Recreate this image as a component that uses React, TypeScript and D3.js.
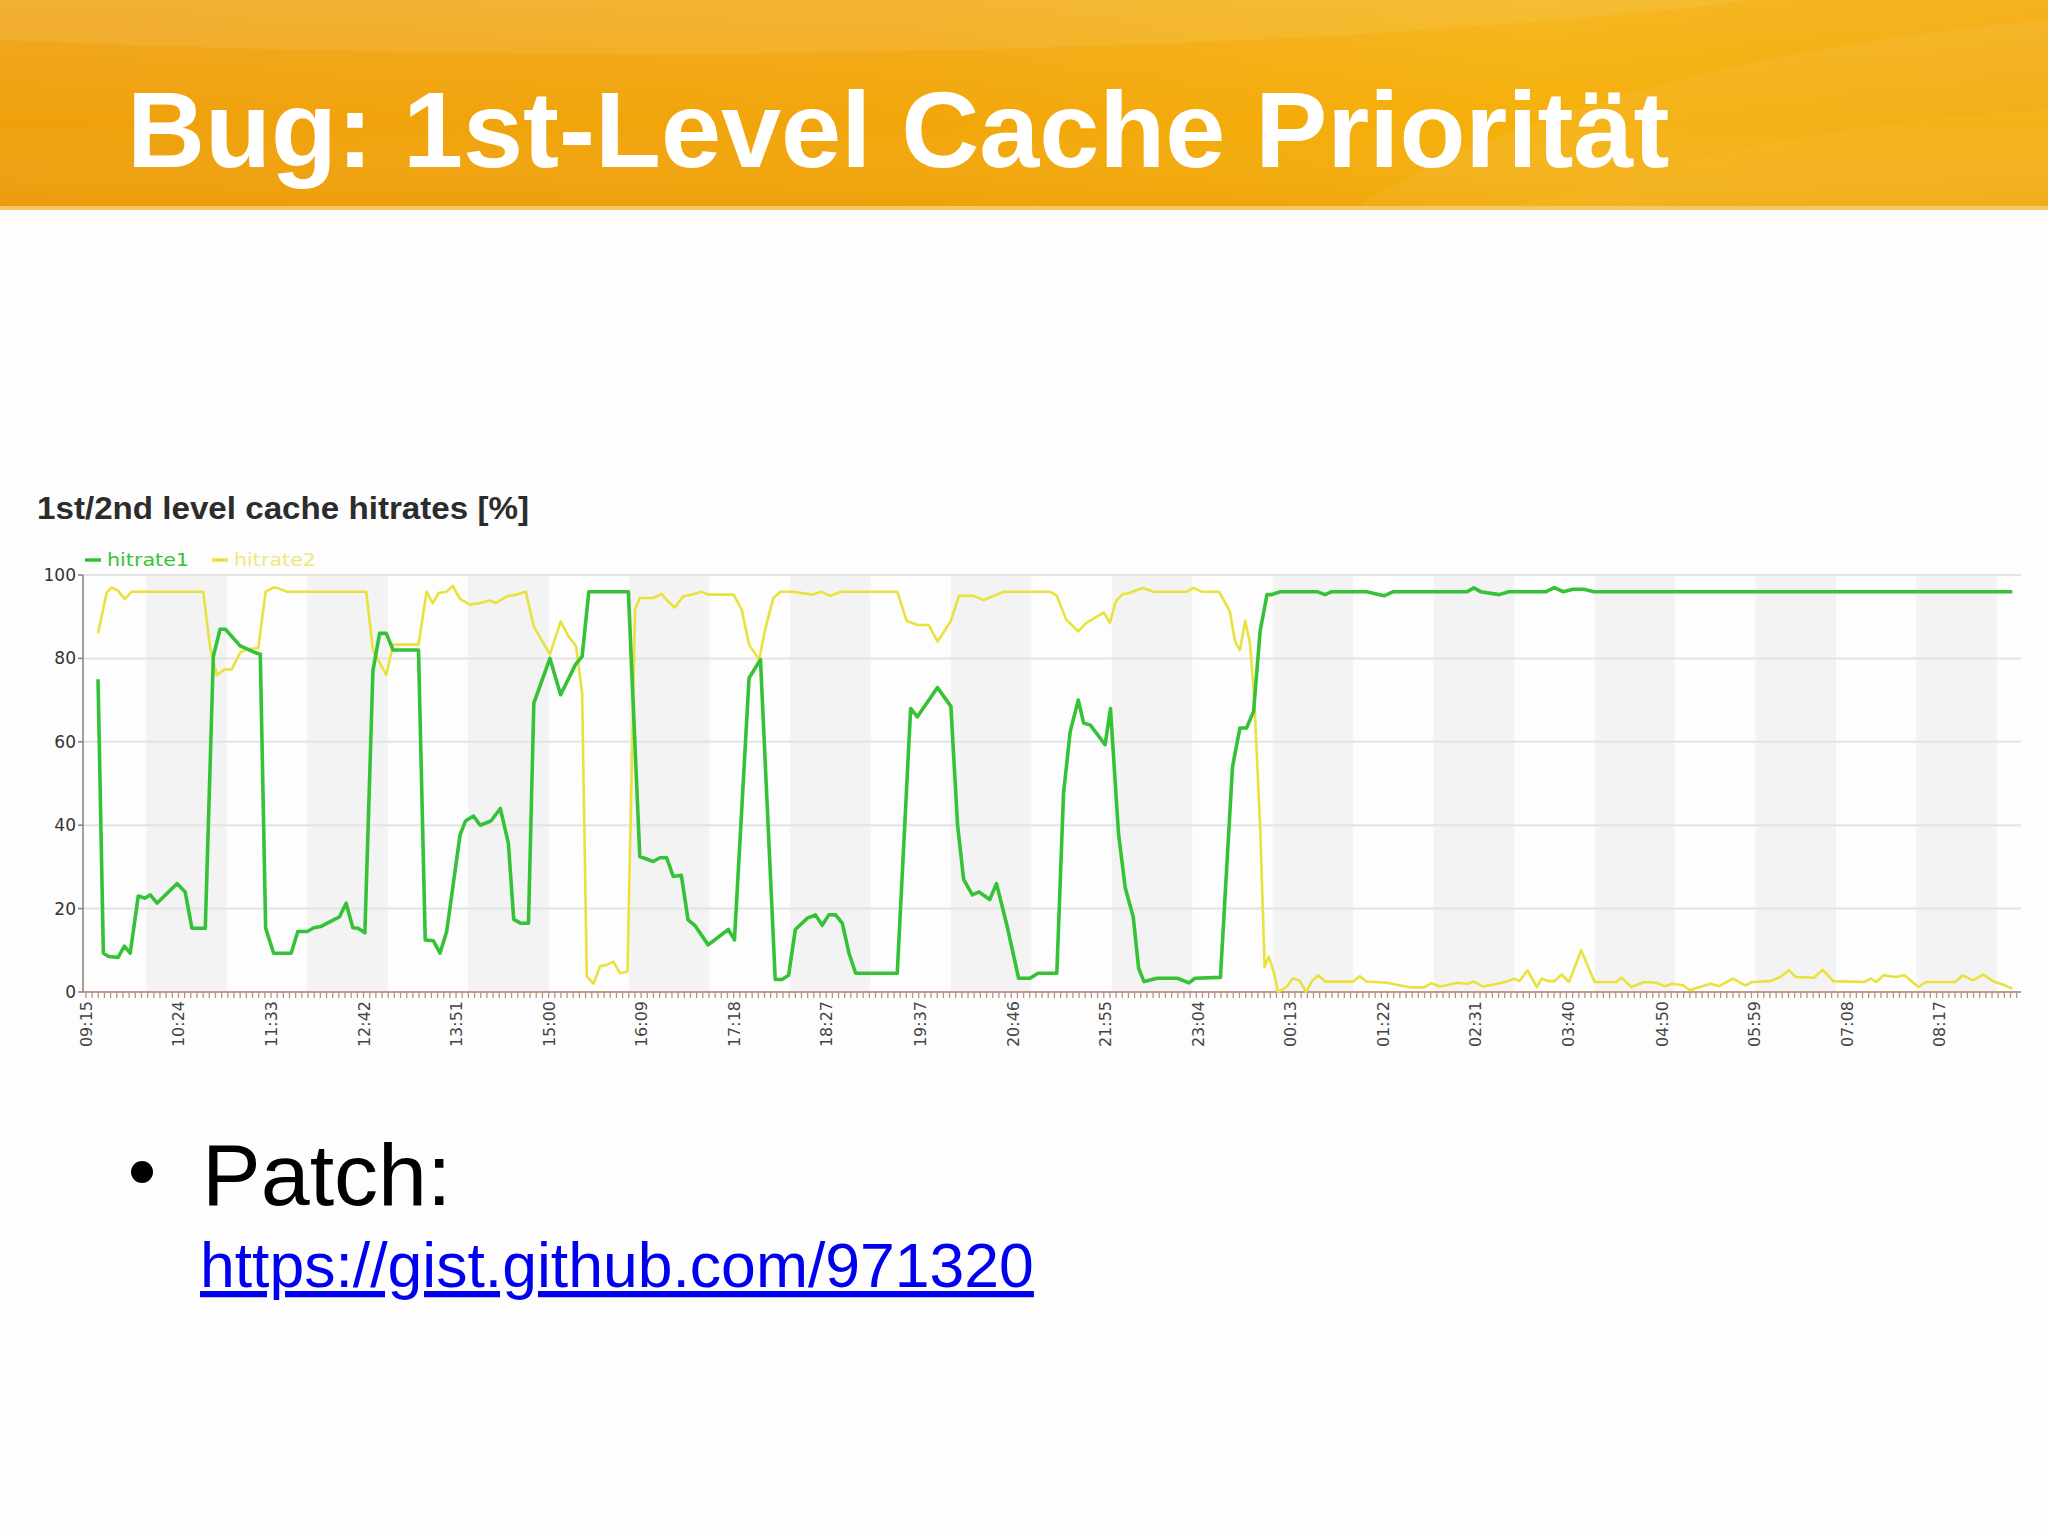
import React from "react";
import * as d3 from "d3";

// ---------- data (minutes since 09:15, hit rate %) ----------
const hitrate1: [number, number][] = [
  [9,75],[13,9.3],[17,8.5],[24,8.3],[28.6,11],[33,9.3],[39,23],[44,22.5],[48,23.3],[53,21.3],[68,26],[74,24],[79,15.3],[89,15.3],
  [95,80.5],[100,87],[104,87],[115,83],[127,81.3],[130,81],[134,15.3],[140,9.3],[153,9.3],[158,14.5],[165,14.5],[170,15.4],[175,15.7],
  [189,18],[194,21.3],[199,15.4],[203,15.3],[208,14.2],[214,77],[219,86],[224,86],[229,82],[248,82],[253,12.5],[259,12.3],[264,9.3],
  [269,14.5],[279,37.7],[283,41],[289,42.2],[294,40],[302,41],[309,44],[315,35.7],[319,17.4],[324,16.5],[330,16.5],[334,69.3],[346,80],
  [354,71.3],[365,78.5],[370,80.5],[375,96],[404.5,96],[413,32.5],[423,31.3],[428,32.2],[433,32.2],[438,27.7],[444,28],[449,17.3],
  [454,16],[464,11.3],[479,15],[483.6,12.5],[494.5,75.3],[503,79.7],[514,3],[519,3],[524,4],[529,15],[538,17.7],[544,18.5],[549,16],
  [554,18.5],[559,18.5],[564,16.5],[569,9.3],[574,4.5],[605,4.5],[615,68],[620,66],[635,73],[645,68.5],[650,40],[654.5,27],[661,23.3],
  [666,24],[674,22.2],[679,26],[687,15.7],[695.5,3.3],[704,3.3],[710,4.5],[724,4.5],[729,47.7],[734,62.5],[740,70],[744,64.5],[749,64],
  [760,59.3],[764,68],[770,38],[775,25],[781,18],[785,5.7],[789,2.5],[799,3.3],[814,3.3],[822.5,2.2],[827,3.3],[846,3.5],[855,54],
  [860.5,63.3],[865.5,63.3],[870.7,67.3],[875.6,86.5],[880.7,95.3],[884,95.3],[890.6,96],[918,96],[924,95.3],[929,96],[955,96],
  [968,95],[975,96],[1030,96],[1035,96.9],[1040,96],[1054,95.3],[1061,96],[1089,96],[1095,97],[1101.5,96],[1109,96.6],[1117,96.6],
  [1124.5,96],[1436.5,96],
];

const hitrate2: [number, number][] = [
  [9,86],[15.4,95.7],[19,97],[24,96.2],[29,94.2],[34,96],[87.5,96],[92.5,82.8],[97.5,76],[103.7,77.4],[108.6,77.3],[115,81.4],
  [120,82.2],[128.5,82.5],[134,96],[140,97],[143.5,96.8],[150,96],[209,96],[214,82],[224,76],[229,83.3],[248,83.3],[254,96],
  [258.6,93.2],[263,95.7],[269,96],[273.5,97.4],[279,94.2],[286.4,92.9],[294,93.3],[301,93.9],[306,93.3],[314,94.9],[321,95.3],
  [328,96],[334,87.6],[341,83.7],[346,81],[354,88.9],[359.8,85.3],[365.5,82.9],[370,71.7],[373.5,3.7],[378.5,2],[383.5,6.2],
  [388.5,6.5],[393.3,7.3],[398.3,4.5],[403.8,4.9],[409.5,91.7],[413,94.5],[423,94.5],[429.4,95.4],[434,93.7],[439,92.2],[445.5,94.9],
  [453,95.4],[459,96],[464,95.3],[483,95.3],[489,91.7],[494.5,83.3],[502,79.7],[506.5,86.9],[512.6,94.5],[518,96],[527,96],[542,95.3],
  [548,96],[555,95],[563,96],[605,96],[612,89],[620,88],[628.5,88],[635,84],[645,89],[651,95],[662,95],[669.3,94],[677,95],[684.5,96],
  [719,96],[724,95],[731,89.3],[740,86.5],[746,88.5],[759,91],[763.6,88.5],[768,93.7],[772.6,95.3],[778,95.7],[788,96.9],[796,96],
  [821,96],[826,96.9],[832,96],[845,96],[853,91.3],[857,84],[860.5,82],[864.5,89],[868,83.7],[871,71.7],[875.6,39.7],[879,6],[882,8.5],
  [886,4.5],[889,0],[895.6,1.3],[900,3.3],[905,2.7],[910,0],[914,2.5],[919,4],[924,2.5],[945,2.5],[950,3.8],[955,2.5],[970,2.2],
  [988,1.1],[998,1.1],[1003,2.1],[1010,1.3],[1023,2.2],[1030,1.9],[1035,2.5],[1042,1.3],[1052,1.9],[1060,2.6],[1065,3.2],[1069,2.6],
  [1075,5.2],[1082,1.2],[1085.5,3.2],[1091,2.6],[1095,2.6],[1100.5,4.2],[1106,2.4],[1115,10],[1125,2.4],[1141,2.4],[1145,3.4],
  [1152.5,1.2],[1162,2.4],[1171,2.2],[1177.5,1.4],[1183,2],[1191,1.6],[1196,0.4],[1203.5,1.2],[1211.5,2],[1218,1.4],[1228,3.2],
  [1237.5,1.6],[1242.5,2.4],[1256,2.6],[1263.5,3.6],[1270,5.2],[1275,3.6],[1288.5,3.4],[1295,5.3],[1303,2.6],[1326,2.4],[1331,3.2],
  [1335,2.4],[1340.5,4],[1349.5,3.6],[1356,4],[1366.5,1.2],[1372,2.4],[1394,2.4],[1399.5,4],[1407,2.8],[1415,4.2],[1422,2.6],
  [1431,1.6],[1436.5,0.8],
];

const xTickLabels = ["09:15","10:24","11:33","12:42","13:51","15:00","16:09","17:18","18:27","19:37","20:46","21:55","23:04","00:13","01:22","02:31","03:40","04:50","05:59","07:08","08:17"];
const yTicks = [0, 20, 40, 60, 80, 100];
const shadedHours = [10, 12, 14, 16, 18, 20, 22, 0, 2, 4, 6, 8];
const seriesNames = ["hitrate1", "hitrate2"];
const seriesColors = ["#36c236", "#e9e23c"];

const START = 9 * 60 + 15;
const toMin = (s: string) => {
  const [h, m] = s.split(":").map(Number);
  return (h * 60 + m - START + 1440) % 1440;
};

export default function App() {
  const x = d3.scaleLinear().domain([-2.2, 1443]).range([83, 2021]);
  const y = d3.scaleLinear().domain([0, 100]).range([992, 575]);
  const line = d3.line<[number, number]>().x(d => x(d[0])).y(d => y(d[1]));
  const minorTicks = d3.range(0, 1441, 69 / 15);
  const font = "'DejaVu Sans', Verdana, sans-serif";
  const [x0, x1] = x.range();

  return (
    <svg width={2048} height={1536} style={{ position: "absolute", left: 0, top: 0, background: "#fdfdfd" }}>
      <defs>
        <linearGradient id="hdr" x1="0" y1="0" x2="1" y2="0">
          <stop offset="0" stopColor="#efa00c" />
          <stop offset="0.45" stopColor="#f2a60a" />
          <stop offset="0.75" stopColor="#f5b00a" />
          <stop offset="1" stopColor="#f3aa08" />
        </linearGradient>
        <linearGradient id="hdrV" x1="0" y1="0" x2="0" y2="1">
          <stop offset="0" stopColor="#ffffff" stopOpacity="0.10" />
          <stop offset="0.6" stopColor="#ffffff" stopOpacity="0" />
          <stop offset="1" stopColor="#d07000" stopOpacity="0.12" />
        </linearGradient>
      </defs>
      <rect x={0} y={0} width={2048} height={1536} fill="#fdfdfd" />
      {/* header */}
      <rect x={0} y={0} width={2048} height={210} fill="url(#hdr)" />
      <rect x={0} y={0} width={2048} height={210} fill="url(#hdrV)" />
      <path d="M0,0 L0,40 Q700,70 1350,35 Q1650,15 1750,0 Z" fill="#ffffff" opacity={0.08} />
      <path d="M1350,210 Q1600,60 2048,20 L2048,210 Z" fill="#ffffff" opacity={0.06} />
      <path d="M1500,210 Q1800,120 2048,110 L2048,210 Z" fill="#ffd040" opacity={0.1} />
      <rect x={0} y={206} width={2048} height={4} fill="#f7c860" />
      <text x={127} y={167} fill="#ffffff" fontFamily="'Liberation Sans', Arial, sans-serif" fontWeight="bold" fontSize={108}>
        Bug: 1st-Level Cache Priorität
      </text>

      {/* chart title & legend */}
      <text x={37} y={519} fill="#2c2c2c" fontFamily="'Liberation Sans', Arial, sans-serif" fontWeight="bold" fontSize={31}
        textLength={492} lengthAdjust="spacingAndGlyphs">
        1st/2nd level cache hitrates [%]
      </text>
      {seriesNames.map((n, i) => (
        <g key={n} transform={`translate(${85 + i * 127},560)`}>
          <line x1={0} x2={16} y1={0} y2={0} stroke={seriesColors[i]} strokeWidth={3.5} />
          <text x={22} y={6} fill={seriesColors[i]} fontFamily={font} fontSize={18.5} opacity={i === 1 ? 0.7 : 1}
            textLength={82} lengthAdjust="spacingAndGlyphs">
            {n}
          </text>
        </g>
      ))}

      {/* plot background bands */}
      {shadedHours.map(h => {
        const s = ((h * 60 - START) + 1440) % 1440;
        return <rect key={h} x={x(s)} y={y(100)} width={x(s + 60) - x(s)} height={y(0) - y(100)} fill="#f3f3f3" />;
      })}
      {/* gridlines */}
      {yTicks.filter(t => t > 0).map(t => (
        <line key={t} x1={x0} x2={x1} y1={y(t)} y2={y(t)} stroke="#e3e3e3" strokeWidth={2} />
      ))}

      {/* y axis */}
      <line x1={x0} x2={x0} y1={y(100)} y2={y(0)} stroke="#8c7c74" strokeWidth={1.5} />
      {yTicks.map(t => (
        <g key={t}>
          <line x1={x0 - 5} x2={x0} y1={y(t)} y2={y(t)} stroke="#8c7c74" strokeWidth={1.5} />
          <text x={x0 - 7} y={y(t) + 6} textAnchor="end" fill="#333" fontFamily={font} fontSize={17}>
            {t}
          </text>
        </g>
      ))}

      {/* x axis */}
      <line x1={x0} x2={x1} y1={y(0)} y2={y(0)} stroke="#c09a8e" strokeWidth={2} />
      {minorTicks.map((m, i) => (
        <line key={i} x1={x(m)} x2={x(m)} y1={y(0)} y2={y(0) + 6} stroke="#b89488" strokeWidth={1.3} />
      ))}
      {xTickLabels.map(l => {
        const px = x(toMin(l));
        return (
          <text key={l} transform={`translate(${px + 6},${y(0) + 9}) rotate(-90)`} textAnchor="end" fill="#444"
            fontFamily={font} fontSize={16}>
            {l}
          </text>
        );
      })}

      {/* series */}
      <path d={line(hitrate2) || ""} fill="none" stroke={seriesColors[1]} strokeWidth={2.6} strokeLinejoin="round" />
      <path d={line(hitrate1) || ""} fill="none" stroke={seriesColors[0]} strokeWidth={3.6} strokeLinejoin="round" />

      {/* bullet text */}
      <circle cx={142} cy={1172} r={11} fill="#000" />
      <text x={202} y={1205} fill="#000" fontFamily="'Liberation Sans', Arial, sans-serif" fontSize={88}>
        Patch:
      </text>
      <text x={200} y={1287} fill="#0000ee" fontFamily="'Liberation Sans', Arial, sans-serif" fontSize={62.5}
        textDecoration="underline">
        https://gist.github.com/971320
      </text>
    </svg>
  );
}
